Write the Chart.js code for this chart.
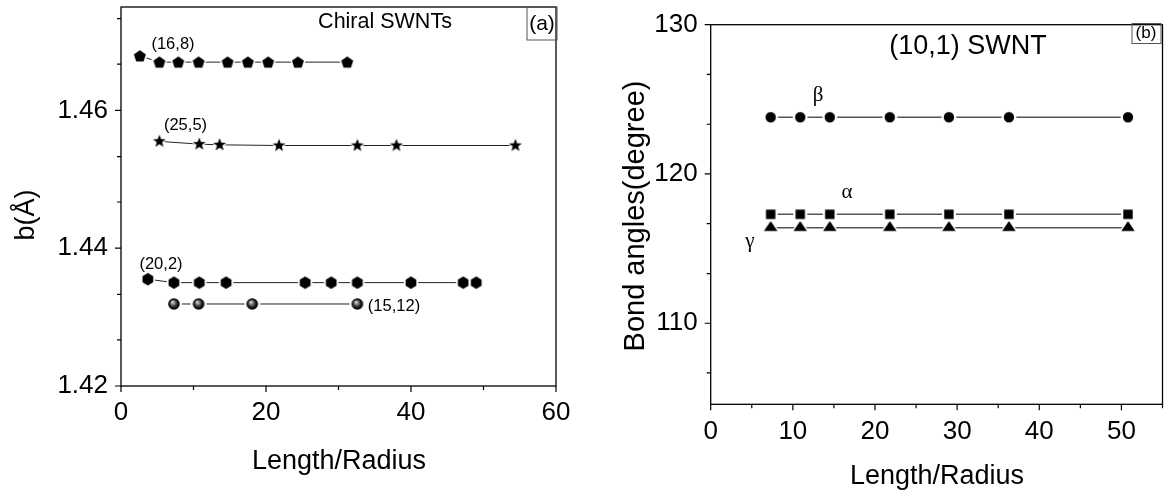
<!DOCTYPE html>
<html>
<head>
<meta charset="utf-8">
<script src="https://cdn.jsdelivr.net/npm/chart.js@4/dist/chart.umd.min.js"></script>
<style>
  html, body { margin: 0; padding: 0; background: #fff; }
  #wrap { position: relative; width: 1170px; height: 495px; }
  canvas { position: absolute; top: 0; }
  #chartA { left: 0; }
  #chartB { left: 585px; }
</style>
</head>
<body>
<div id="wrap">
  <canvas id="chartA" width="585" height="495"></canvas>
  <canvas id="chartB" width="585" height="495"></canvas>
</div>
<script>
// (a) b vs Length/Radius for chiral tubes
const lenR_16_8 = [2.6, 5.3, 7.9, 10.7, 14.7, 17.5, 20.3, 24.4, 31.2];
const b_16_8 = [1.4679, 1.4670, 1.4670, 1.4670, 1.4670, 1.4670, 1.4670, 1.4670, 1.4670];

const lenR_25_5 = [5.3, 10.8, 13.6, 21.8, 32.6, 38.0, 54.4];
const b_25_5 = [1.4555, 1.4551, 1.4550, 1.4549, 1.4549, 1.4549, 1.4549];

const lenR_20_2 = [3.7, 7.3, 10.8, 14.5, 25.4, 29.0, 32.6, 40.0, 47.2, 49.0];
const b_20_2 = [1.4355, 1.4350, 1.4350, 1.4350, 1.4350, 1.4350, 1.4350, 1.4350, 1.4350, 1.4350];

const lenR_15_12 = [7.3, 10.7, 18.1, 32.6];
const b_15_12 = [1.4319, 1.4319, 1.4319, 1.4319];

const xTicksA = [0, 20, 40, 60];
const xMinorA = [10, 30, 50];
const yTicksA = [1.42, 1.44, 1.46];
const yMinorA = [1.4267, 1.4333, 1.4467, 1.4533, 1.4667, 1.4733];

// (b) bond angles of (10,1)
const lenR_10_1 = [7.3, 10.9, 14.5, 21.8, 29.0, 36.3, 50.8];
const angleBeta = [123.8, 123.8, 123.8, 123.8, 123.8, 123.8, 123.8];
const angleAlpha = [117.3, 117.3, 117.3, 117.3, 117.3, 117.3, 117.3];
const angleGamma = [116.4, 116.4, 116.4, 116.4, 116.4, 116.4, 116.4];

const xTicksB = [0, 10, 20, 30, 40, 50];
const xMinorB = [5, 15, 25, 35, 45, 55];
const yTicksB = [110, 120, 130];
const yMinorB = [106.67, 113.33, 116.67, 123.33, 126.67];

const FONT = "'Liberation Sans', Arial, sans-serif";
const SERIF = "'Liberation Serif', 'Times New Roman', serif";

// маркеры рисуем сами (пятиугольник, звезда, шестиугольник, шар)
function polyPath(ctx, cx, cy, r, n, rot) {
  ctx.beginPath();
  for (let i = 0; i < n; i++) {
    const a = rot + i * 2 * Math.PI / n;
    const px = cx + r * Math.cos(a), py = cy + r * Math.sin(a);
    i ? ctx.lineTo(px, py) : ctx.moveTo(px, py);
  }
  ctx.closePath();
}

function starPath(ctx, cx, cy, R, r) {
  ctx.beginPath();
  for (let i = 0; i < 10; i++) {
    const a = -Math.PI / 2 + i * Math.PI / 5;
    const rr = i % 2 ? r : R;
    const px = cx + rr * Math.cos(a), py = cy + rr * Math.sin(a);
    i ? ctx.lineTo(px, py) : ctx.moveTo(px, py);
  }
  ctx.closePath();
}

function marker(draw) {
  const c = document.createElement("canvas");
  c.width = 22; c.height = 22;
  const ctx = c.getContext("2d");
  draw(ctx, 11, 11);
  return c;
}

const pentagon = marker((ctx, cx, cy) => {
  polyPath(ctx, cx, cy, 8.5, 5, -Math.PI / 2); ctx.fillStyle = "#fff"; ctx.fill();
  polyPath(ctx, cx, cy + 0.5, 6.3, 5, -Math.PI / 2); ctx.fillStyle = "#000"; ctx.fill();
});
const star = marker((ctx, cx, cy) => {
  starPath(ctx, cx, cy, 9, 4.5); ctx.fillStyle = "#fff"; ctx.fill();
  starPath(ctx, cx, cy, 6.8, 2.8); ctx.fillStyle = "#000"; ctx.fill();
});
const hexagon = marker((ctx, cx, cy) => {
  polyPath(ctx, cx, cy, 8.3, 6, -Math.PI / 2); ctx.fillStyle = "#fff"; ctx.fill();
  polyPath(ctx, cx, cy, 6.2, 6, -Math.PI / 2); ctx.fillStyle = "#000"; ctx.fill();
});
const sphere = marker((ctx, cx, cy) => {
  ctx.beginPath(); ctx.arc(cx, cy, 8, 0, 2 * Math.PI); ctx.fillStyle = "#fff"; ctx.fill();
  const g = ctx.createRadialGradient(cx - 1.5, cy - 2, 0, cx, cy, 5.8);
  g.addColorStop(0, "#f4f4f4");
  g.addColorStop(0.3, "#888");
  g.addColorStop(0.7, "#1a1a1a");
  g.addColorStop(1, "#000");
  ctx.beginPath(); ctx.arc(cx, cy, 5.8, 0, 2 * Math.PI); ctx.fillStyle = g; ctx.fill();
});
const dot = marker((ctx, cx, cy) => {
  ctx.beginPath(); ctx.arc(cx, cy, 7.5, 0, 2 * Math.PI); ctx.fillStyle = "#fff"; ctx.fill();
  ctx.beginPath(); ctx.arc(cx, cy, 5.2, 0, 2 * Math.PI); ctx.fillStyle = "#000"; ctx.fill();
});
const square = marker((ctx, cx, cy) => {
  ctx.fillStyle = "#fff"; ctx.fillRect(cx - 7, cy - 7, 14, 14);
  ctx.fillStyle = "#000"; ctx.fillRect(cx - 4.7, cy - 4.7, 9.4, 9.4);
});
const triangle = marker((ctx, cx, cy) => {
  const tri = (h, w) => {
    ctx.beginPath();
    ctx.moveTo(cx, cy - h * 2 / 3);
    ctx.lineTo(cx + w / 2, cy + h / 3);
    ctx.lineTo(cx - w / 2, cy + h / 3);
    ctx.closePath();
  };
  tri(15, 19); ctx.fillStyle = "#fff"; ctx.fill();
  tri(10, 13.5); ctx.fillStyle = "#000"; ctx.fill();
});

const toPoints = (xs, ys) => xs.map((x, i) => ({ x: x, y: ys[i] }));

// рамка, засечки, подписи
const framePlugin = {
  id: "frame",
  afterDraw(chart, args, opts) {
    const ctx = chart.ctx;
    const a = chart.chartArea;
    const sx = chart.scales.x, sy = chart.scales.y;
    ctx.save();
    ctx.strokeStyle = "#000";
    ctx.lineWidth = 1.3;
    ctx.strokeRect(a.left, a.top, a.right - a.left, a.bottom - a.top);

    ctx.lineWidth = 1.2;
    ctx.beginPath();
    opts.xMajor.forEach((v) => {
      const p = sx.getPixelForValue(v);
      ctx.moveTo(p, a.bottom); ctx.lineTo(p, a.bottom + 6);
    });
    opts.xMinor.forEach((v) => {
      const p = sx.getPixelForValue(v);
      ctx.moveTo(p, a.bottom); ctx.lineTo(p, a.bottom + 4);
    });
    opts.yMajor.forEach((v) => {
      const p = sy.getPixelForValue(v);
      ctx.moveTo(a.left, p); ctx.lineTo(a.left - 6, p);
    });
    opts.yMinor.forEach((v) => {
      const p = sy.getPixelForValue(v);
      ctx.moveTo(a.left, p); ctx.lineTo(a.left - 4, p);
    });
    ctx.stroke();

    ctx.fillStyle = "#000";
    ctx.textAlign = "center";
    ctx.textBaseline = "middle";
    opts.notes.forEach((n) => {
      ctx.save();
      ctx.font = n.font;
      ctx.translate(n.x, n.y);
      if (n.rotate) ctx.rotate(-Math.PI / 2);
      ctx.fillText(n.text, 0, 0);
      ctx.restore();
      if (n.box) {
        ctx.lineWidth = 1;
        ctx.strokeStyle = "#555";
        ctx.strokeRect(n.box[0], n.box[1], n.box[2], n.box[3]);
      }
    });
    ctx.restore();
  },
};

// убираем автоматические поля под подписи, чтобы область графика стояла где надо
const noPad = (s) => {
  s.paddingTop = 0; s.paddingBottom = 0;
  s.paddingLeft = 0; s.paddingRight = 0;
};

function makeChart(id, cfg) {
  return new Chart(document.getElementById(id), {
    type: "scatter",
    data: { datasets: cfg.datasets },
    options: {
      responsive: false,
      animation: false,
      devicePixelRatio: 1,
      layout: { padding: cfg.padding },
      plugins: {
        legend: { display: false },
        tooltip: { enabled: false },
        frame: cfg.frame,
      },
      scales: {
        x: {
          type: "linear",
          min: cfg.xMin, max: cfg.xMax,
          grid: { display: false, drawTicks: false },
          border: { display: false },
          afterBuildTicks: (s) => { s.ticks = cfg.frame.xMajor.map((v) => ({ value: v })); },
          afterFit: (s) => { s.height = cfg.xHeight; noPad(s); },
          ticks: {
            autoSkip: false, maxRotation: 0, padding: 11.5, color: "#000",
            font: { family: FONT, size: 26 },
            callback: (v) => String(v),
          },
        },
        y: {
          type: "linear",
          min: cfg.yMin, max: cfg.yMax,
          grid: { display: false, drawTicks: false },
          border: { display: false },
          afterBuildTicks: (s) => { s.ticks = cfg.frame.yMajor.map((v) => ({ value: v })); },
          afterFit: (s) => { s.width = cfg.yWidth; noPad(s); },
          ticks: {
            autoSkip: false, padding: 13, color: "#000",
            font: { family: FONT, size: 26 },
            callback: cfg.yFormat,
          },
        },
      },
    },
    plugins: [framePlugin],
  });
}

const lineA = (xs, ys, style) => ({
  data: toPoints(xs, ys),
  showLine: true,
  borderColor: "#222",
  borderWidth: 1,
  pointStyle: style,
  pointRadius: 6,
  pointHoverRadius: 6,
});

makeChart("chartA", {
  datasets: [
    lineA(lenR_16_8, b_16_8, pentagon),
    lineA(lenR_25_5, b_25_5, star),
    lineA(lenR_20_2, b_20_2, hexagon),
    lineA(lenR_15_12, b_15_12, sphere),
  ],
  padding: { top: 6, right: 29, left: 0, bottom: 0 },
  xMin: 0, xMax: 60, yMin: 1.42, yMax: 1.475,
  xHeight: 109, yWidth: 121,
  yFormat: (v) => v.toFixed(2),
  frame: {
    xMajor: xTicksA, xMinor: xMinorA, yMajor: yTicksA, yMinor: yMinorA,
    notes: [
      { text: "b(Å)", x: 27, y: 215, font: "27px " + FONT, rotate: true },
      { text: "Length/Radius", x: 339, y: 462, font: "27px " + FONT },
      { text: "Chiral SWNTs", x: 385, y: 22, font: "21.5px " + FONT },
      { text: "(a)", x: 542, y: 24, font: "21px " + FONT, box: [527, 7, 30, 33] },
      { text: "(16,8)", x: 173, y: 44, font: "16.5px " + FONT },
      { text: "(25,5)", x: 185.5, y: 125, font: "16.5px " + FONT },
      { text: "(20,2)", x: 161, y: 264, font: "16.5px " + FONT },
      { text: "(15,12)", x: 394, y: 306, font: "16.5px " + FONT },
    ],
  },
});

const lineB = (ys, style) => ({
  data: toPoints(lenR_10_1, ys),
  showLine: true,
  borderColor: "#555",
  borderWidth: 1.4,
  pointStyle: style,
  pointRadius: 6,
  pointHoverRadius: 6,
});

makeChart("chartB", {
  datasets: [
    lineB(angleBeta, dot),
    lineB(angleAlpha, square),
    lineB(angleGamma, triangle),
  ],
  padding: { top: 24.7, right: 7.5, left: 0, bottom: 0 },
  xMin: 0, xMax: 55, yMin: 104.57, yMax: 130,
  xHeight: 90.7, yWidth: 125.7,
  yFormat: (v) => String(v),
  frame: {
    xMajor: xTicksB, xMinor: xMinorB, yMajor: yTicksB, yMinor: yMinorB,
    notes: [
      { text: "Bond angles(degree)", x: 51, y: 216, font: "29px " + FONT, rotate: true },
      { text: "Length/Radius", x: 352, y: 477, font: "27px " + FONT },
      { text: "(10,1) SWNT", x: 383, y: 47, font: "27px " + FONT },
      { text: "(b)", x: 561, y: 33.5, font: "17px " + FONT, box: [547, 23.5, 29, 20] },
      { text: "β", x: 233, y: 95, font: "21px " + SERIF },
      { text: "α", x: 262, y: 192, font: "21px " + SERIF },
      { text: "γ", x: 165, y: 241, font: "21px " + SERIF },
    ],
  },
});
</script>
</body>
</html>
